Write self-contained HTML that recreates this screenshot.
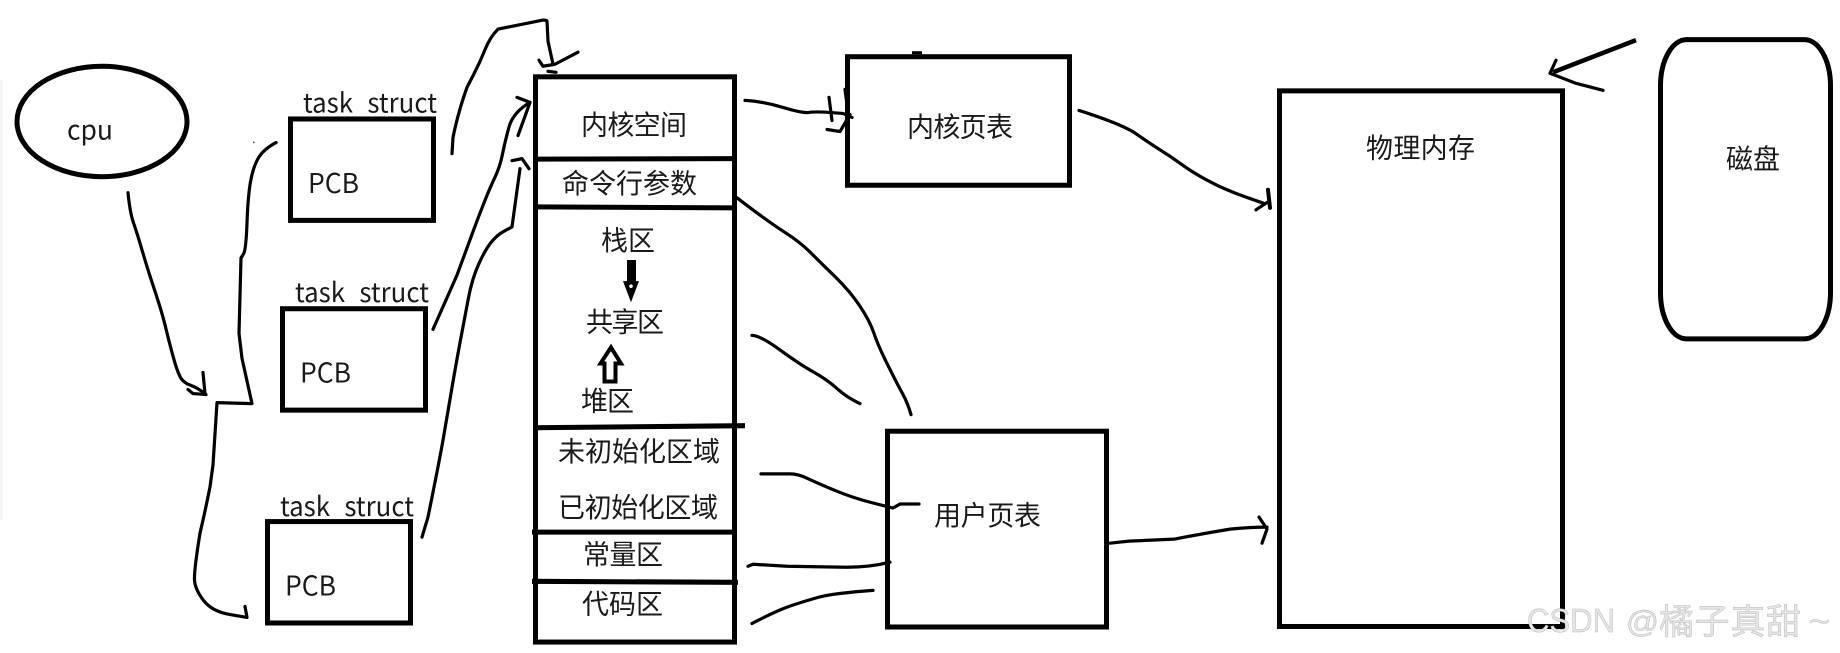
<!DOCTYPE html>
<html><head><meta charset="utf-8"><style>
html,body{margin:0;padding:0;background:#fff;width:1840px;height:653px;overflow:hidden}
svg{display:block}
text{font-family:"Noto Sans CJK SC","Liberation Sans",sans-serif;font-size:27px;fill:#1a1a1a}
.b{fill:none;stroke:#000;stroke-width:5}
.l{fill:none;stroke:#000;stroke-width:3.200;stroke-linejoin:round;stroke-linecap:round}
.d{stroke:#000;stroke-width:5;fill:none}
.w{font-family:"Liberation Sans","Noto Sans CJK SC",sans-serif;fill:#e6e6e6;stroke:#b4b4b4;stroke-width:.45}
</style></head><body>
<svg width="1840" height="653" viewBox="0 0 1840 653" xmlns="http://www.w3.org/2000/svg">
<rect x="0" y="80" width="3" height="440" fill="#f6f6f6"/>
<g transform="scale(1,1.004)">

<!-- labels above boxes -->
<text x="303" y="112" textLength="134" lengthAdjust="spacingAndGlyphs">task_struct</text>
<text x="295" y="301" textLength="134" lengthAdjust="spacingAndGlyphs">task_struct</text>
<text x="280" y="514" textLength="134" lengthAdjust="spacingAndGlyphs">task_struct</text>
<rect x="300" y="113.500" width="140" height="4" fill="#fff"/>
<rect x="292" y="302.500" width="140" height="4" fill="#fff"/>
<rect x="277" y="515" width="140" height="4" fill="#fff"/>

<ellipse cx="102" cy="121" rx="85" ry="55" class="b"/>
<text x="67" y="139" textLength="46" lengthAdjust="spacingAndGlyphs">cpu</text>

<rect x="290.500" y="118.500" width="143" height="101" fill="#fff" class="b"/>
<rect x="282.500" y="307.500" width="143" height="101" fill="#fff" class="b"/>
<rect x="267.500" y="519.500" width="143" height="101" fill="#fff" class="b"/>
<text x="308" y="192" textLength="51" lengthAdjust="spacingAndGlyphs">PCB</text>
<text x="300" y="381" textLength="51" lengthAdjust="spacingAndGlyphs">PCB</text>
<text x="285" y="593" textLength="51" lengthAdjust="spacingAndGlyphs">PCB</text>

<!-- cpu arrow -->
<path class="l" d="M128 192Q130 212 133.500 222Q137 232 142 249Q147 266 151 278Q155 290 159 302.500Q163 315 166.500 329.500Q170 344 173.500 356.500Q177 369 180 375Q183 381 190 383.500Q197 386 205 392L203 371"/>
<polyline class="l" points="206,393 193,392 188,388"/>
<rect x="253" y="141" width="1.500" height="1.500" fill="#444"/>
<!-- bracket -->
<path class="l" d="M276 142Q263 149 258 158Q253 167 250.500 181Q248 195 247 222Q246 249 243.500 253L241 257Q240 295 239 332L242 357L252 402L217 401L213 463L210 485Q205 510 200 531Q194 568 194.500 577.500Q195 587 203.500 598Q212 609 229.500 612L247 615L245 604"/>

<!-- task_struct to kernel space -->
<path class="l" d="M452 153L453 137Q458 112 467 87Q467 87 473.500 74.500Q480 62 485 49.500Q490 37 498 29L543 20Q547 20 547 21L548 41L553 64"/>
<polyline class="l" points="578,52 555,64 543,66 539,60"/>
<polyline class="l" points="548,71 556,72"/>
<path class="l" d="M433 328L457 274Q468.500 243 474 228Q480 212 485 199.500Q490 187 495 176.500Q500 166 502.500 153.500Q505 141 509 126.500Q513 112 530 102"/>
<polyline class="l" points="517,97 530,102 518,135"/>
<path class="l" d="M422 535L428 515Q440 456 443.500 435.500Q447 415 452 386Q457 357 461 336Q465 315 468.500 296.500Q472 278 478.500 263.500Q485 249 491 241.500Q497 234 504.500 230L512 226L520 168"/>
<polyline class="l" points="512,160 522,158 529,168"/>

<!-- address space column -->
<rect x="535.500" y="76.500" width="199" height="563" class="b"/>
<line class="d" x1="533" y1="158.500" x2="735" y2="158"/>
<line class="d" x1="533" y1="206" x2="735" y2="207"/>
<line class="d" x1="533" y1="426" x2="745" y2="424"/>
<line class="d" x1="532" y1="530" x2="735" y2="530"/>
<line class="d" x1="532" y1="579" x2="738" y2="580"/>
<text x="581" y="134" textLength="106">内核空间</text>
<text x="562" y="192" textLength="135">命令行参数</text>
<text x="601" y="249" textLength="54">栈区</text>
<text x="586" y="330" textLength="78">共享区</text>
<text x="581" y="409" textLength="53">堆区</text>
<text x="558" y="459" textLength="162">未初始化区域</text>
<text x="558" y="515" textLength="160">已初始化区域</text>
<text x="583" y="562" textLength="80">常量区</text>
<text x="582" y="611" textLength="81">代码区</text>

<!-- block arrows -->
<path d="M627 259h9v21h3l-8 21-8-21h4z" fill="#000"/>
<circle cx="631" cy="285" r="1.800" fill="#fff"/>
<path d="M611 346 L621 362 H615.500 V380 H604.500 V362 H600.500 Z" fill="#fff" stroke="#000" stroke-width="4"/>

<!-- kernel page table -->
<rect x="847.500" y="56.500" width="222" height="128" class="b"/>
<rect x="912" y="51" width="10" height="3" fill="#000"/>
<text x="907" y="136" textLength="106">内核页表</text>
<path class="l" d="M745 100Q763 101 783 107Q803 113 809 112Q815 111 829 112L843 113L852 117"/>
<polyline class="l" points="829,97 832,120"/>
<polyline class="l" points="827,129 840,131 850,114"/>
<polyline class="l" points="845,89 847,104"/>

<!-- column to user page table -->
<path class="l" d="M737 197Q767 220 783.500 230.500Q800 241 810 251Q820 261 835 275.500Q850 290 860 305Q870 320 874 332Q878 344 887.500 363Q897 382 902.500 392Q908 402 911 413"/>
<path class="l" d="M752 334Q760 334 780 348.500Q800 363 813.500 370.500Q827 378 837 387Q847 396 860 402"/>
<path class="l" d="M761 472L790 472Q798 472 807.500 476.500Q817 481 835 488.500Q853 496 873 501L893 506L900 502L919 502"/>
<path class="l" d="M748 564L753 562L787 564L847 565Q870 565 890 560"/>
<path class="l" d="M752 621Q777 608 792 603Q807 598 820 594.500Q833 591 873 588"/>

<!-- user page table -->
<rect x="887.500" y="429.500" width="219" height="195" class="b"/>
<text x="934" y="523" textLength="107">用户页表</text>

<!-- physical memory -->
<rect x="1279.500" y="90.500" width="283" height="533.500" class="b"/>
<text x="1366" y="157" textLength="109">物理内存</text>
<path class="l" d="M1079 110Q1123 124 1136.500 133.500Q1150 143 1160.500 149.500Q1171 156 1182 164Q1193 172 1209 180.500Q1225 189 1245 196L1265 203"/>
<polyline class="l" style="stroke-width:4" points="1268,189 1270,207"/>
<polyline class="l" points="1256,209 1268,201"/>
<path class="l" d="M1110 541L1129 539L1174 537Q1200 532 1230 527Q1250 525 1267 525"/>
<polyline class="l" points="1259,515 1267,527 1262,541"/>

<!-- disk -->
<rect x="1660.500" y="39.500" width="170" height="298" rx="26" ry="46" class="b"/>
<text x="1726" y="168" textLength="54">磁盘</text>
<line x1="1636" y1="40" x2="1553" y2="72" stroke="#000" stroke-width="4.500"/>
<polyline class="l" points="1556,60 1550,73 1576,83 1603,90"/>
</g>

<!-- watermark -->
<text class="w" x="1527" y="632" textLength="88" lengthAdjust="spacingAndGlyphs" style="font-size:33px">CSDN</text>
<text class="w" x="1626" y="632" textLength="33" lengthAdjust="spacingAndGlyphs" style="font-size:31px">@</text>
<text class="w" x="1659" y="634" textLength="142" style='font-family:"Noto Sans CJK SC",sans-serif;font-size:35px'>橘子真甜</text>
<text class="w" x="1809" y="632" textLength="21" lengthAdjust="spacingAndGlyphs" style="font-size:31px">~</text>
</svg>
</body></html>
